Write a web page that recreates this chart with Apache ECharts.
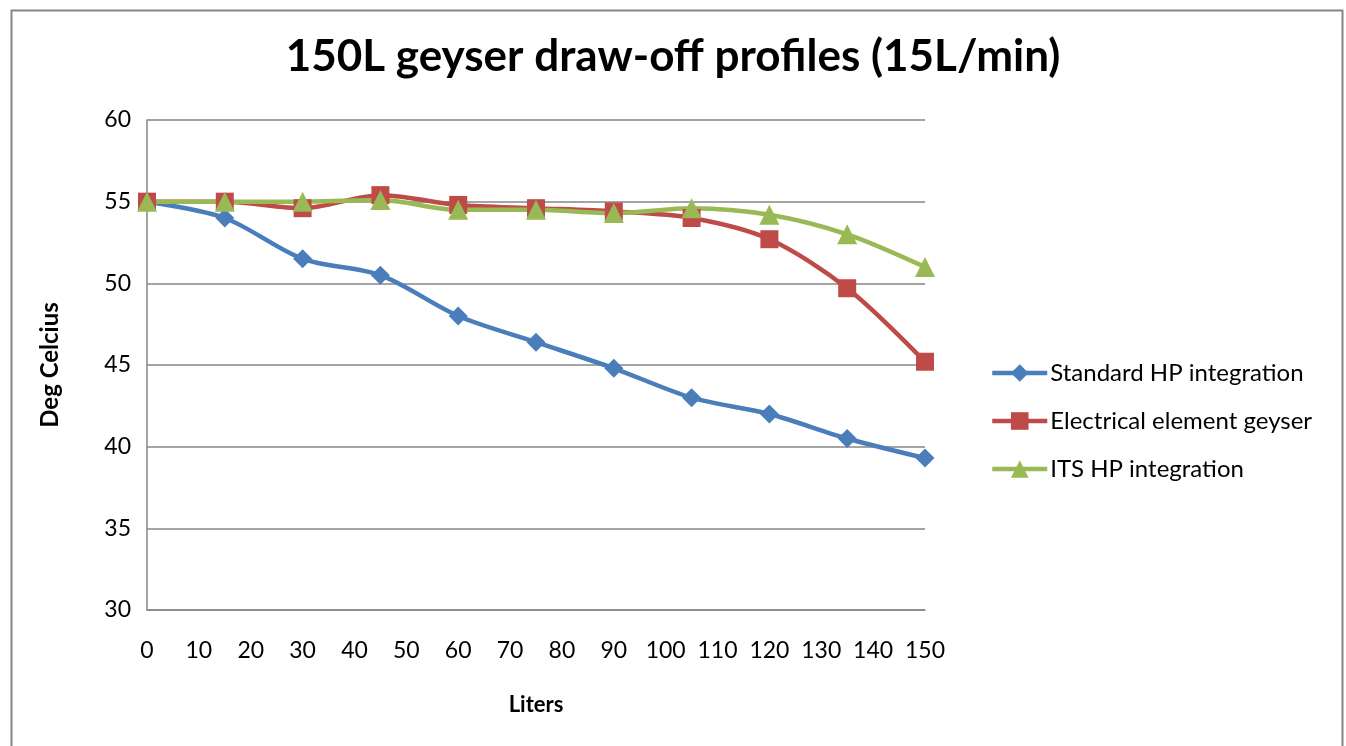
<!DOCTYPE html>
<html>
<head>
<meta charset="utf-8">
<script src="https://cdn.jsdelivr.net/npm/echarts@6/dist/echarts.min.js"></script>
<style>html,body{margin:0;padding:0;background:#fff}#c{width:1346px;height:746px}</style>
</head>
<body>
<div id="c"></div>
<script>
const liters = [0, 15, 30, 45, 60, 75, 90, 105, 120, 135, 150];
const standardHP = [55, 54.0, 51.5, 50.5, 48.0, 46.4, 44.8, 43.0, 42.0, 40.5, 39.3];
const electrical = [55, 55.0, 54.6, 55.4, 54.8, 54.6, 54.4, 54.0, 52.7, 49.7, 45.2];
const itsHP = [55, 55.0, 55.0, 55.1, 54.5, 54.5, 54.3, 54.6, 54.2, 53.0, 51.0];
const seriesNames = ['Standard HP integration', 'Electrical element geyser', 'ITS HP integration'];
const titleText = '150L geyser draw-off profiles (15L/min)';
const xName = 'Liters';
const yName = 'Deg Celcius';

const FONT = 'Lato';
const pairs = (ys) => liters.map((x, i) => [x, ys[i]]);

const chart = echarts.init(document.getElementById('c'), null, {renderer: 'canvas'});
chart.setOption({
  animation: false,
  backgroundColor: '#fff',
  textStyle: {fontFamily: FONT},
  graphic: [{
    type: 'rect', left: 9, top: 8, silent: true,
    shape: {width: 1331, height: 760},
    style: {fill: 'none', stroke: '#868686', lineWidth: 2}
  }],
  title: {
    text: titleText, left: 'center', top: 30,
    textStyle: {fontFamily: FONT, fontSize: 44, fontWeight: 'bold', color: '#000'}
  },
  grid: {left: 147, right: 421, top: 120, bottom: 136},
  legend: {
    orient: 'vertical', left: 985, top: 356, itemGap: 24,
    itemWidth: 55, itemHeight: 22,
    lineStyle: {width: 4.5},
    textStyle: {fontFamily: FONT, fontSize: 24, color: '#000', padding: [0, 0, 0, -2]},
    data: seriesNames
  },
  xAxis: {
    type: 'value', min: 0, max: 150, interval: 10,
    name: xName, nameLocation: 'middle', nameGap: 84,
    nameTextStyle: {fontFamily: FONT, fontSize: 22, fontWeight: 'bold', color: '#000'},
    axisLine: {lineStyle: {color: '#868686', width: 1.5}},
    axisTick: {show: false},
    axisLabel: {fontFamily: FONT, fontSize: 23, color: '#000', margin: 29},
    splitLine: {show: false}
  },
  yAxis: {
    type: 'value', min: 30, max: 60, interval: 5,
    name: yName, nameLocation: 'middle', nameGap: 85,
    nameTextStyle: {fontFamily: FONT, fontSize: 24, fontWeight: 'bold', color: '#000'},
    axisLine: {show: true, lineStyle: {color: '#868686', width: 1.5}},
    axisTick: {show: false},
    axisLabel: {fontFamily: FONT, fontSize: 23, color: '#000', margin: 16},
    splitLine: {lineStyle: {color: '#868686', width: 1.5}}
  },
  series: [
    {name: seriesNames[0], type: 'line', data: pairs(standardHP), smooth: 0.3,
     symbol: 'diamond', symbolSize: 19, color: '#4A7EBB', lineStyle: {width: 4.5}},
    {name: seriesNames[1], type: 'line', data: pairs(electrical), smooth: 0.3,
     symbol: 'rect', symbolSize: 18, color: '#BE4B48', lineStyle: {width: 4.5}},
    {name: seriesNames[2], type: 'line', data: pairs(itsHP), smooth: 0.3,
     symbol: 'triangle', symbolSize: 20, color: '#98B954', lineStyle: {width: 4.5}}
  ]
});
</script>
</body>
</html>
